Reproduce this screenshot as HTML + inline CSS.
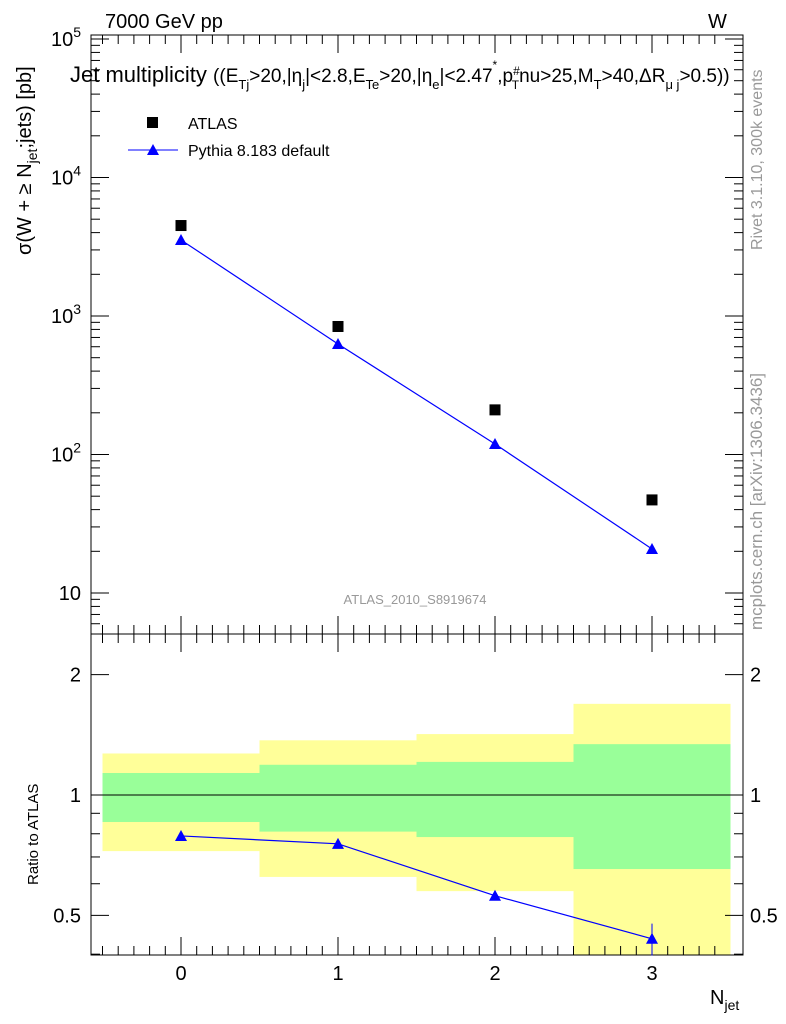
<!DOCTYPE html>
<html><head><meta charset="utf-8"><style>
body{margin:0;background:#fff}
svg{display:block;font-family:"Liberation Sans",sans-serif}
</style></head><body>
<svg id="c" width="786" height="1024" viewBox="0 0 786 1024">
<g id="bands"></g>
<g id="axes" stroke="#000" fill="none" stroke-width="1"></g>
<g id="marks"></g>
<g id="labels" font-size="20" fill="#000"></g>
<text x="105" y="28" font-size="20">7000 GeV pp</text>
<text x="708" y="28" font-size="20">W</text>
<text x="70" y="82" font-size="22">Jet multiplicity <tspan font-size="19">((E<tspan font-size="13" dy="7">Tj</tspan><tspan dy="-7">&gt;20,|η</tspan><tspan font-size="13" dy="7">j</tspan><tspan dy="-7">|&lt;2.8,E</tspan><tspan font-size="13" dy="7">Te</tspan><tspan dy="-7">&gt;20,|η</tspan><tspan font-size="13" dy="7">e</tspan><tspan dy="-7">|&lt;2.47</tspan><tspan font-size="12" dy="-13">*</tspan><tspan dy="13">,p</tspan><tspan font-size="12" dy="-7">#</tspan><tspan font-size="12" dx="-8" dy="14">T</tspan><tspan dy="-7">nu&gt;25,M</tspan><tspan font-size="13" dy="7">T</tspan><tspan dy="-7">&gt;40,ΔR</tspan><tspan font-size="13" dy="7">μ j</tspan><tspan dy="-7">&gt;0.5))</tspan></tspan></text>
<rect x="147" y="117" width="11" height="11" fill="#000"/>
<text x="188" y="129" font-size="16">ATLAS</text>
<line x1="128" y1="150" x2="178" y2="150" stroke="#00f"/>
<polygon points="153,144 147,155 159,155" fill="#00f"/>
<text x="188" y="156" font-size="16">Pythia 8.183 default</text>
<text x="415" y="604" font-size="13" fill="#999" text-anchor="middle">ATLAS_2010_S8919674</text>
<text transform="translate(762,250) rotate(-90)" font-size="16" fill="#999">Rivet 3.1.10,  300k events</text>
<text transform="translate(762,630) rotate(-90)" font-size="17" fill="#999">mcplots.cern.ch [arXiv:1306.3436]</text>
<text transform="translate(31,255) rotate(-90)" font-size="20">σ(W + ≥ N<tspan font-size="14" dy="6">jet</tspan><tspan dy="-6">;jets) [pb]</tspan></text>
<text transform="translate(38,885) rotate(-90)" font-size="15">Ratio to ATLAS</text>
<text x="710" y="1004" font-size="20">N<tspan font-size="14" dy="6">jet</tspan></text>
</svg>
<script>
const cats=[0,1,2,3];
const atlas=[4500,840,210,47];
const pythia=[3540,628,119,20.8];
const ratio=[0.79,0.755,0.56,0.437];
const ratioErr=[0,0,0,0.04];
const greenHi=[1.135,1.19,1.21,1.34];
const greenLo=[0.856,0.81,0.785,0.653];
const yellowHi=[1.27,1.37,1.42,1.69];
const yellowLo=[0.724,0.624,0.575,0.35];
const yTicks=[10,100,1000,10000,100000];
const rTicks=[0.5,1,2];
const NS="http://www.w3.org/2000/svg";
const L=91,R=743,T1=35,B1=634,T2=634,B2=955;
const X=v=>181+v*157;
const Y=v=>593-(Math.log10(v)-1)*138.5;
const YR=v=>795-Math.log10(v)*400;
function mk(p,tag,a){const e=document.createElementNS(NS,tag);for(const k in a)e.setAttribute(k,a[k]);document.getElementById(p).appendChild(e);return e;}
cats.forEach((c,i)=>{
 const x0=X(c-0.5),w=X(c+0.5)-x0;
 const yb=Math.min(YR(yellowLo[i]),B2);
 let e=mk('bands','rect',{x:x0,y:YR(yellowHi[i]),width:w,height:yb-YR(yellowHi[i]),fill:'#ffff99'});
 
 
 e=mk('bands','rect',{x:x0,y:YR(greenHi[i]),width:w,height:YR(greenLo[i])-YR(greenHi[i]),fill:'#99ff99'});
 
 
});
let f=mk('axes','rect',{x:L,y:T1,width:R-L,height:B1-T1});


f=mk('axes','rect',{x:L,y:T2,width:R-L,height:B2-T2});


mk('axes','line',{x1:L,x2:R,y1:YR(1),y2:YR(1)});
for(let d=1;d<=5;d++){for(let m=1;m<10;m++){const v=m*Math.pow(10,d);const y=Y(v);if(y<T1||y>B1)continue;const len=m==1?18:9;
 mk('axes','line',{x1:L,x2:L+len,y1:y,y2:y});mk('axes','line',{x1:R,x2:R-len,y1:y,y2:y});}}
for(let m=4;m<10;m++){const y=Y(m);if(y<=B1){mk('axes','line',{x1:L,x2:L+9,y1:y,y2:y});mk('axes','line',{x1:R,x2:R-9,y1:y,y2:y});}}
[0.4,0.5,0.6,0.7,0.8,0.9,1,2].forEach(v=>{const y=YR(v);const len=(v==0.5||v==1||v==2)?18:9;mk('axes','line',{x1:L,x2:L+len,y1:y,y2:y});mk('axes','line',{x1:R,x2:R-len,y1:y,y2:y});});
for(let v=-0.5;v<=3.5;v+=0.1){const x=X(v);if(x<L||x>R)continue;const major=Math.abs(v-Math.round(v))<0.01;const len=major?18:9;
 [[B1,-1],[T1,1],[B2,-1],[T2,1]].forEach(([y,s])=>mk('axes','line',{x1:x,x2:x,y1:y,y2:y+s*len}));}
yTicks.forEach((v,i)=>{const t=mk('labels','text',{x:81,y:Y(v)+7,'text-anchor':'end'});
 t.textContent='10';if(i>0){const s=document.createElementNS(NS,'tspan');s.setAttribute('font-size','14');s.setAttribute('dy','-9');s.textContent=String(i+1);t.appendChild(s);}
 
 });
rTicks.forEach(v=>{[[81,'end'],[750,'start']].forEach(([x,a])=>{const t=mk('labels','text',{x:x,y:YR(v)+7,'text-anchor':a});t.textContent=String(v);
 
 });});
cats.forEach(c=>{const t=mk('labels','text',{x:X(c),y:980,'text-anchor':'middle'});t.textContent=String(c);
 
 });
mk('marks','polyline',{points:cats.map((c,i)=>X(c)+','+Y(pythia[i])).join(' '),fill:'none',stroke:'#00f','stroke-width':1.2});
mk('marks','polyline',{points:cats.map((c,i)=>X(c)+','+YR(ratio[i])).join(' '),fill:'none',stroke:'#00f','stroke-width':1.2});
cats.forEach((c,i)=>{
 let e=mk('marks','rect',{x:X(c)-5.5,y:Y(atlas[i])-5.5,width:11,height:11,fill:'#000'});
 
 
 const x=X(c);let y=Y(pythia[i]);
 e=mk('marks','polygon',{points:`${x},${y-6} ${x-6},${y+5} ${x+6},${y+5}`,fill:'#00f'});
 
 
 y=YR(ratio[i]);
 if(ratioErr[i]>0){const eb=mk('marks','line',{x1:x,x2:x,y1:YR(ratio[i]+ratioErr[i]),y2:YR(ratio[i]-ratioErr[i]),stroke:'#00f'});
  
  }
 e=mk('marks','polygon',{points:`${x},${y-6} ${x-6},${y+5} ${x+6},${y+5}`,fill:'#00f'});
 
 
});
</script>
</body></html>
